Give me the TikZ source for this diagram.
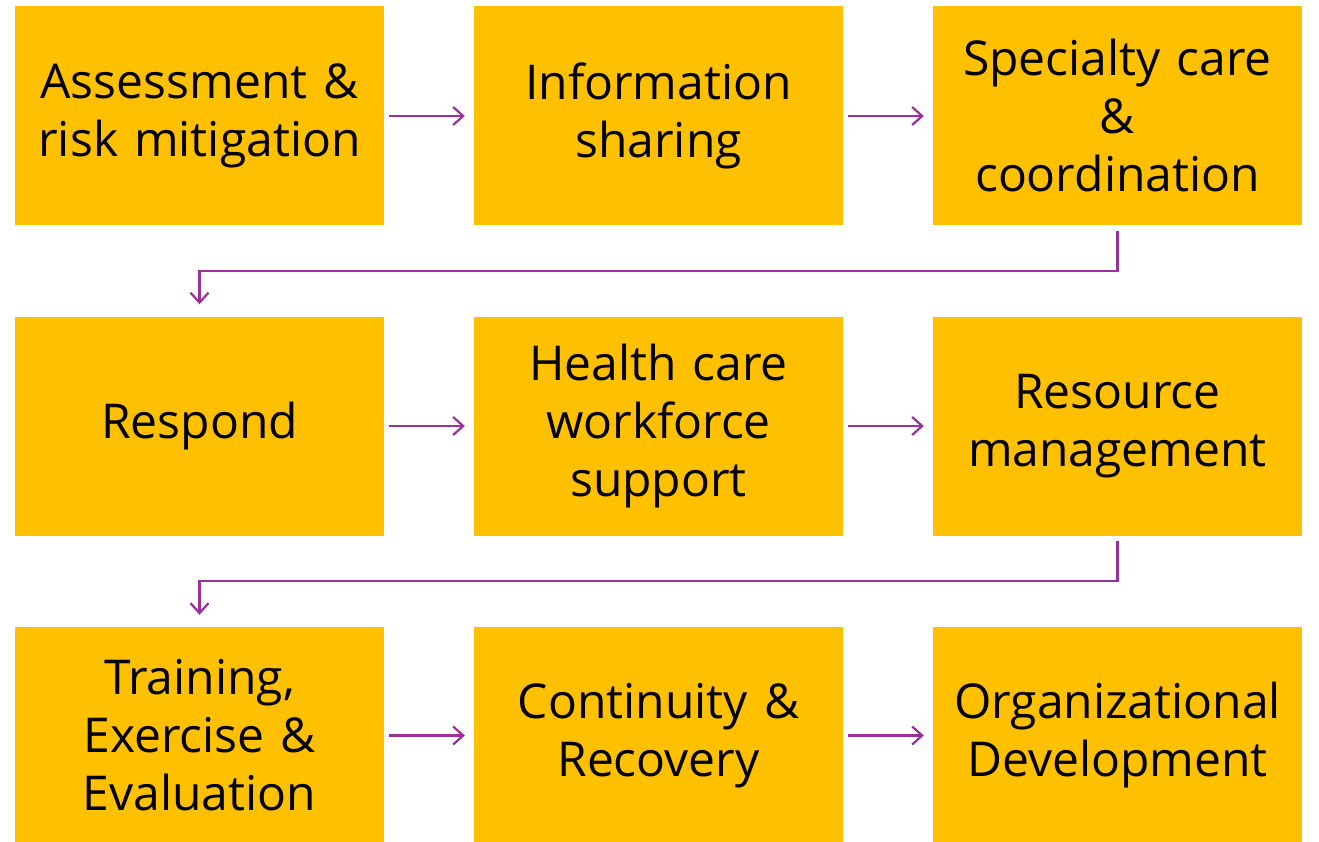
\documentclass[tikz,border=0pt]{standalone}
\usepackage{fontspec}
\setmainfont{Open Sans}
\usetikzlibrary{arrows.meta}
\definecolor{boxy}{HTML}{FFC000}
\definecolor{arr}{HTML}{9B2F9B}
\tikzset{
  box/.style={fill=boxy, draw=none, minimum width=369pt, minimum height=219pt, inner sep=0pt, align=center, font=\fontsize{48}{58}\selectfont, text width=369pt},
  conn/.style={draw=arr, line width=2.2pt, -{Straight Barb[length=10pt,width=18pt,line width=2.2pt]}},
}
\begin{document}
\begin{tikzpicture}[x=1pt,y=-1pt]
\useasboundingbox (0,0) rectangle (1319,842);
\node[box] (a) at (199.5,116) {Assessment \&\\risk mitigation};
\node[box] (b) at (658.5,116) {Information\\sharing};
\node[box] (c) at (1117.5,116) {Specialty care\\\&\\coordination};
\node[box] (d) at (199.5,426) {Respond};
\node[box] (e) at (658.5,426) {Health care\\workforce\\support};
\node[box] (f) at (1117.5,426) {Resource\\management};
\node[box, minimum height=217pt] (g) at (199.5,735.5) {Training,\\Exercise \&\\Evaluation};
\node[box, minimum height=217pt] (h) at (658.5,735.5) {Continuity \&\\Recovery};
\node[box, minimum height=217pt] (i) at (1117.5,735.5) {Organizational\\Development};
\draw[conn] ([xshift=5pt]a.east) -- ([xshift=-9pt]b.west);
\draw[conn] ([xshift=5pt]b.east) -- ([xshift=-9pt]c.west);
\draw[conn] ([xshift=5pt]d.east) -- ([xshift=-9pt]e.west);
\draw[conn] ([xshift=5pt]e.east) -- ([xshift=-9pt]f.west);
\draw[conn] ([xshift=5pt]g.east) -- ([xshift=-9pt]h.west);
\draw[conn] ([xshift=5pt]h.east) -- ([xshift=-9pt]i.west);
\draw[conn] ([yshift=-5pt]c.south) -- ++(0,40) -| ([yshift=12pt]d.north);
\draw[conn] ([yshift=-5pt]f.south) -- ++(0,40) -| ([yshift=12pt]g.north);
\end{tikzpicture}
\end{document}
